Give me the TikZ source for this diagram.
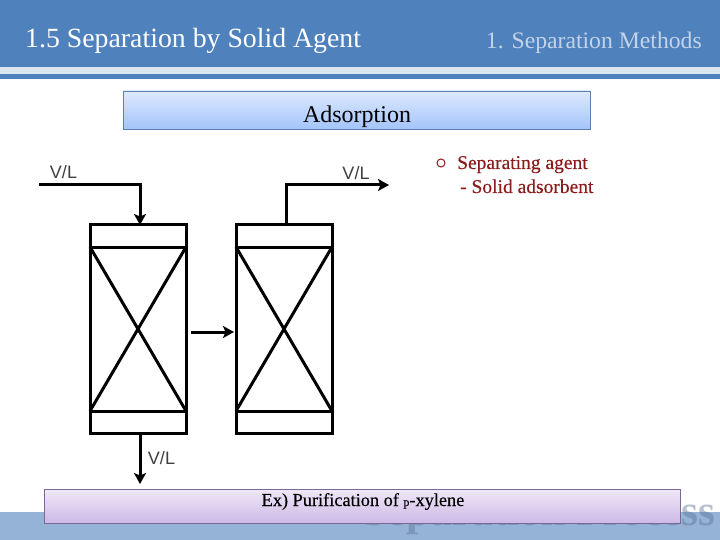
\documentclass[tikz,border=0pt]{standalone}
\usepackage{fontspec}
\setmainfont{Liberation Serif}
\newfontfamily\labelfont{Liberation Sans}
\newfontfamily\heavyserif[FakeBold=0.3]{Liberation Serif}
\usetikzlibrary{arrows.meta}
\definecolor{hdr}{HTML}{4F81BD}
\definecolor{hdrlight}{HTML}{DCE6F1}
\definecolor{sectxt}{HTML}{C2D3EA}
\definecolor{foot}{HTML}{95B3D7}
\definecolor{agent}{HTML}{8B1A1A}
\definecolor{ghosttxt}{HTML}{5F7593}
\tikzset{
  flow/.style={line width=3pt,-{Stealth[length=11pt,width=12pt,inset=2.5pt]}},
  vbody/.style={draw=black,line width=3pt,minimum width=96pt,minimum height=164pt,inner sep=0pt,outer sep=0pt},
  vcap/.style={draw=black,line width=3pt,minimum width=96pt,minimum height=22pt,inner sep=0pt,outer sep=0pt},
  packing/.style={line width=3pt},
  vl/.style={font=\labelfont\fontsize{18}{20}\selectfont,text=black!75,inner sep=0pt},
  txt/.style={inner sep=0pt},
  agenttxt/.style={anchor=base west,inner sep=0pt,text=agent,font=\heavyserif\fontsize{19.5}{22}\selectfont}
}
\begin{document}
\begin{tikzpicture}[x=1pt,y=-1pt]
\useasboundingbox (0,0) rectangle (720,540);
\fill[white] (0,0) rectangle (720,540);
% header bands
\fill[hdr] (0,0) rectangle (720,67);
\fill[hdrlight] (0,67) rectangle (720,74);
\fill[hdr] (0,74) rectangle (720,79);
% footer
\fill[foot] (0,512) rectangle (720,540);
\node[anchor=base east,txt,font=\bfseries\fontsize{43.5}{46}\selectfont,text=ghosttxt,text opacity=0.45] (ghost) at (716,525) {Separation Process};
% titles
\node[anchor=base west,txt,text=white,font=\fontsize{27.8}{32}\selectfont] (title) at (25,48) {1.5 Separation by Solid Agent};
\node[anchor=base east,txt,text=sectxt,font=\fontsize{23.7}{28}\selectfont] (section) at (702,49) {1. Separation Methods};
% banners
\shade[top color={rgb,255:red,222;green,234;blue,253},bottom color={rgb,255:red,163;green,196;blue,251},draw={rgb,255:red,91;green,127;blue,176},line width=0.9pt] (123,91) rectangle (590,129);
\node[anchor=base,txt,font=\fontsize{24}{28}\selectfont] (ads) at (357,123) {Adsorption};
\shade[top color={rgb,255:red,240;green,232;blue,248},bottom color={rgb,255:red,205;green,185;blue,230},draw={rgb,255:red,120;green,105;blue,150},line width=0.9pt] (44,489) rectangle (680,523);
\node[anchor=base,txt,font=\heavyserif\fontsize{18.3}{20}\selectfont] (ex) at (363,506) {Ex) Purification of {\fontsize{12}{14}\selectfont p}-xylene};
% vessels
\node[vbody] (b1) at (138,329) {};
\node[vcap] (t1) at (138,236) {};
\node[vcap] (u1) at (138,422) {};
\node[vbody] (b2) at (284,329) {};
\node[vcap] (t2) at (284,236) {};
\node[vcap] (u2) at (284,422) {};
\draw[packing] (b1.north west) -- (b1.south east) (b1.north east) -- (b1.south west);
\draw[packing] (b2.north west) -- (b2.south east) (b2.north east) -- (b2.south west);
% connectors
\coordinate (feed) at (39,185);
\coordinate (feedbend) at (140,185);
\coordinate (inlet) at (140,225);
\coordinate (outlet) at (286,225);
\coordinate (outbend) at (286,185);
\coordinate (prod) at (389,185);
\coordinate (midA) at (191,332);
\coordinate (midB) at (234,332);
\coordinate (botA) at (140,433);
\coordinate (botB) at (140,484);
\draw[flow] (feed) -- (feedbend) -- (inlet);
\draw[flow] (outlet) -- (outbend) -- (prod);
\draw[flow] (midA) -- (midB);
\draw[flow] (botA) -- (botB);
% labels
\node[vl] (l1) at (63.5,172) {V/L};
\node[vl] (l2) at (356,173) {V/L};
\node[vl] (l3) at (161.5,458) {V/L};
\node[agenttxt] (ag1) at (457,169) {Separating agent};
\node[agenttxt] (ag2) at (460,193) {- Solid adsorbent};
\node[circle,draw=agent,line width=1pt,minimum size=8pt,inner sep=0pt] (bullet) at (441,163) {};
\end{tikzpicture}
\end{document}
